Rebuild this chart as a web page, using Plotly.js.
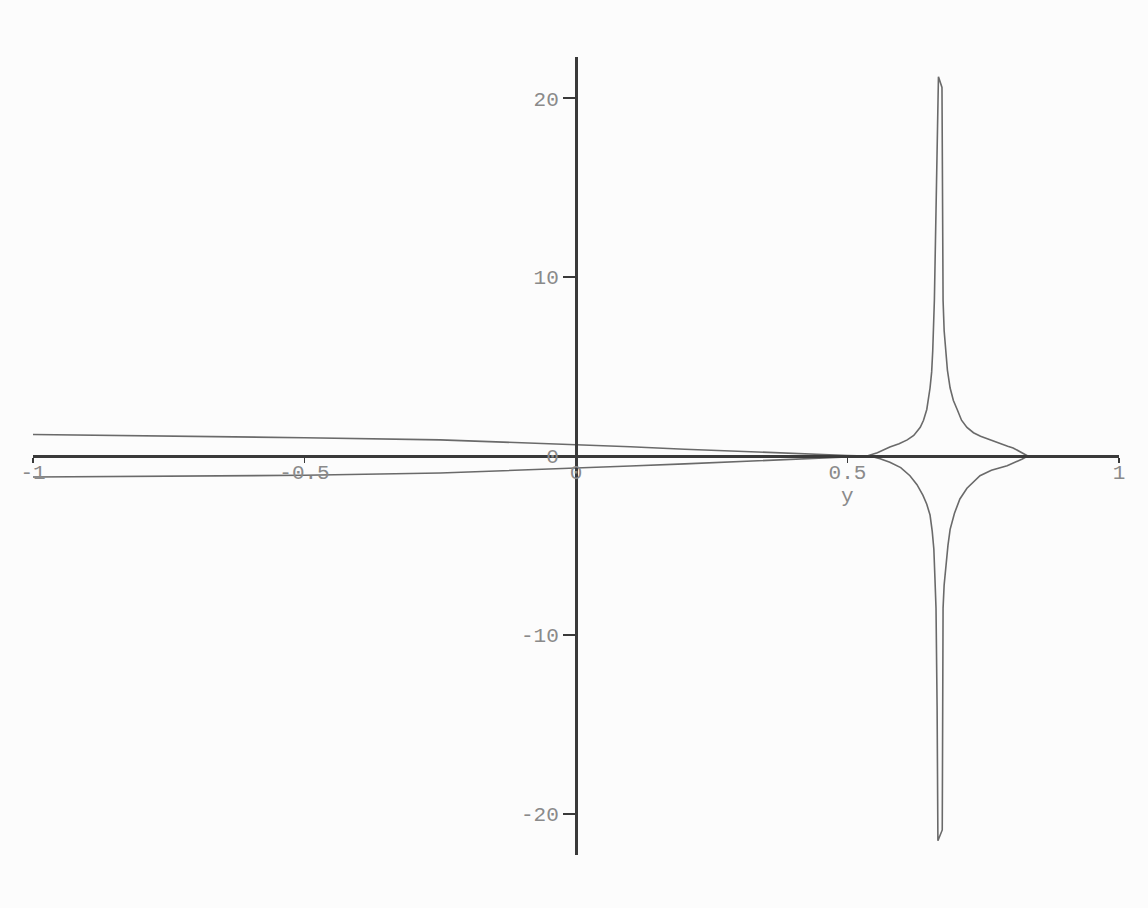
<!DOCTYPE html>
<html>
<head>
<meta charset="utf-8">
<script src="https://cdn.plot.ly/plotly-3.0.1.min.js"></script>
<style>
  html, body { margin: 0; padding: 0; background: #fcfcfc; }
  #plot { width: 1148px; height: 908px; }
</style>
</head>
<body>
<div id="plot"></div>
<script>
// Upper branch: slow decay to zero near y = 0.54, then the pole near y = 2/3
const upperY = [-1, -0.75, -0.5, -0.25, 0, 0.1, 0.2, 0.3, 0.4, 0.45, 0.5, 0.536,
  0.555, 0.578, 0.595, 0.61, 0.622, 0.634, 0.64, 0.646, 0.649, 0.652, 0.655, 0.657,
  0.66, 0.663, 0.666, 0.6675,
  0.674, 0.675, 0.676, 0.678, 0.681, 0.684, 0.689, 0.695, 0.702, 0.71, 0.72, 0.732,
  0.745, 0.762, 0.775, 0.785, 0.795, 0.805, 0.815, 0.825, 0.832];
const upperV = [1.2, 1.12, 1.02, 0.9, 0.65, 0.52, 0.38, 0.25, 0.13, 0.08, 0.03, 0,
  0.18, 0.5, 0.68, 0.9, 1.15, 1.6, 2.0, 2.6, 3.1, 3.8, 4.7, 5.9,
  8.7, 13, 17.5, 21.2,
  20.6, 15, 8.7, 7.0, 5.9, 4.8, 3.8, 3.1, 2.6, 2.0, 1.6, 1.3,
  1.1, 0.9, 0.75, 0.64, 0.55, 0.45, 0.3, 0.13, 0];

// Lower branch, the mirror-image curve below the axis
const lowerY = [-1, -0.75, -0.5, -0.25, 0, 0.1, 0.2, 0.3, 0.4, 0.45, 0.5, 0.541,
  0.56, 0.578, 0.598, 0.615, 0.628, 0.639, 0.646, 0.652, 0.656, 0.659, 0.661, 0.663,
  0.665, 0.6665,
  0.6745, 0.675, 0.676, 0.678, 0.681, 0.685, 0.689, 0.697, 0.707, 0.72, 0.744,
  0.765, 0.794, 0.81, 0.822, 0.832];
const lowerV = [-1.17, -1.12, -1.08, -0.95, -0.7, -0.56, -0.44, -0.3, -0.17, -0.1, -0.04, 0,
  -0.15, -0.35, -0.65, -1.1, -1.6, -2.2, -2.7, -3.3, -4.2, -5.2, -6.8, -8.5,
  -14, -21.5,
  -20.9, -14, -8.5, -7.2, -6.1, -5.0, -4.1, -3.2, -2.4, -1.8, -1.1,
  -0.8, -0.55, -0.35, -0.17, 0];

const xTicks = [-1, -0.5, 0, 0.5, 1];
const xTickText = ['-1', '-0.5', '0', '0.5', '1'];
const yTicks = [-20, -10, 0, 10, 20];
const yTickText = ['-20', '-10', '0', '10', '20'];

const curveStyle = { color: '#6a6a6a', width: 1.6 };
const tickFont = { family: 'Liberation Mono, DejaVu Sans Mono, monospace', size: 21, color: '#8a8a8a' };

const traces = [
  { x: upperY, y: upperV, mode: 'lines', line: curveStyle, hoverinfo: 'skip', showlegend: false },
  { x: lowerY, y: lowerV, mode: 'lines', line: curveStyle, hoverinfo: 'skip', showlegend: false }
];

const axisColor = '#3a3a3a';
const layout = {
  width: 1148, height: 908,
  paper_bgcolor: '#fcfcfc', plot_bgcolor: '#fcfcfc',
  margin: { l: 33, r: 29, t: 57, b: 53 },
  showlegend: false,
  xaxis: {
    range: [-1, 1], domain: [0, 1], anchor: 'free', position: 0.5,
    showgrid: false, zeroline: false, showline: true, linecolor: axisColor, linewidth: 2.5,
    tickmode: 'array', tickvals: xTicks, ticktext: xTickText,
    ticks: 'outside', ticklen: 5, tickwidth: 1.5, tickcolor: axisColor,
    ticklabelstandoff: -9,
    tickfont: tickFont
  },
  xaxis2: {
    range: [-1, 1], overlaying: 'x', anchor: 'free', position: 0.5, side: 'top',
    showgrid: false, zeroline: false, showline: false,
    tickmode: 'array', tickvals: xTicks, showticklabels: false,
    ticks: 'outside', ticklen: 7, tickwidth: 1.5, tickcolor: axisColor
  },
  yaxis: {
    range: [-22.3, 22.3], domain: [0, 1], anchor: 'free', position: 0.5,
    showgrid: false, zeroline: false, showline: true, linecolor: axisColor, linewidth: 2.5,
    tickmode: 'array', tickvals: yTicks, ticktext: yTickText,
    ticks: 'outside', ticklen: 12, tickwidth: 1.5, tickcolor: axisColor,
    tickfont: tickFont
  },
  yaxis2: {
    range: [-22.3, 22.3], overlaying: 'y', anchor: 'free', position: 0.5, side: 'right',
    showgrid: false, zeroline: false, showline: false,
    tickmode: 'array', tickvals: yTicks, showticklabels: false,
    ticks: 'outside', ticklen: 7, tickwidth: 1.5, tickcolor: axisColor
  },
  annotations: [
    { x: 0.5, y: -2.25, xref: 'x', yref: 'y', text: 'y', showarrow: false,
      font: tickFont, xanchor: 'center', yanchor: 'middle' }
  ]
};

Plotly.newPlot('plot', traces, layout, { staticPlot: true, displayModeBar: false });
</script>
</body>
</html>
